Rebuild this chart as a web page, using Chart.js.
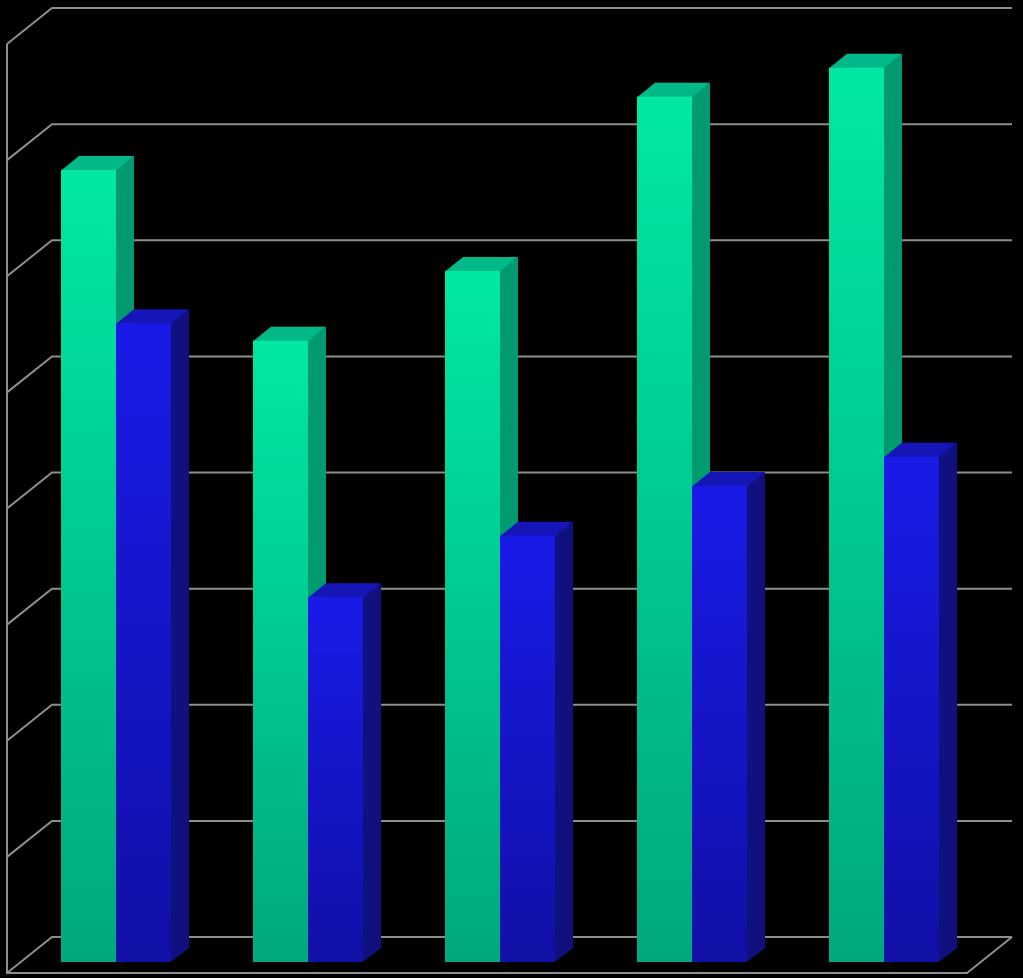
<!DOCTYPE html>
<html>
<head>
<meta charset="utf-8">
<script src="https://cdn.jsdelivr.net/npm/chart.js@4/dist/chart.umd.min.js"></script>
<style>
  html, body { margin: 0; padding: 0; background: #000; }
  #wrap { width: 1023px; height: 978px; position: relative; }
</style>
</head>
<body>
<div id="wrap"><canvas id="c"></canvas></div>
<script>
const categories = ['1', '2', '3', '4', '5'];
const seriesGreen = [6.82, 5.35, 5.95, 7.45, 7.70];
const seriesBlue = [5.50, 3.14, 3.67, 4.10, 4.35];
const yTicks = [0, 1, 2, 3, 4, 5, 6, 7, 8];

const DEPTH_X = 18, DEPTH_Y = 14;      // bar depth
const BACK_X = 32, BACK_Y = 25;        // bar front plane -> back wall
const FRONT_X = 13, FRONT_Y = 11;      // bar front plane -> wall front edge

const styles = [
  { top: '#00e8a4', bottom: '#00a87e', lid: '#00b888', side: '#009a70' },
  { top: '#1a1ae8', bottom: '#1010a6', lid: '#1515b8', side: '#10107e' }
];

function frontFill(ctx, i) {
  const chart = ctx.chart;
  const st = styles[i];
  if (!chart.chartArea || ctx.raw === undefined) return st.top;
  const y = chart.scales.y;
  const g = chart.ctx.createLinearGradient(0, y.getPixelForValue(ctx.raw), 0, y.getPixelForValue(0));
  g.addColorStop(0, st.top);
  g.addColorStop(1, st.bottom);
  return g;
}

const scene3d = {
  id: 'scene3d',
  beforeDatasetsDraw(chart) {
    const { ctx, chartArea: a, scales: { y } } = chart;
    ctx.save();
    // walls and gridlines
    ctx.strokeStyle = '#8e8e8e';
    ctx.lineWidth = 2;
    ctx.lineJoin = 'miter';
    ctx.beginPath();
    yTicks.forEach(v => {
      const py = y.getPixelForValue(v);
      ctx.moveTo(a.left - FRONT_X, py + FRONT_Y);
      ctx.lineTo(a.left + BACK_X, py - BACK_Y);
      ctx.lineTo(a.right + BACK_X, py - BACK_Y);
    });
    const y0 = y.getPixelForValue(yTicks[0]);
    const yMax = y.getPixelForValue(yTicks[yTicks.length - 1]);
    ctx.moveTo(a.left - FRONT_X, yMax + FRONT_Y);
    ctx.lineTo(a.left - FRONT_X, y0 + FRONT_Y);
    ctx.lineTo(a.right - FRONT_X, y0 + FRONT_Y);
    ctx.lineTo(a.right + BACK_X, y0 - BACK_Y);
    ctx.stroke();

    // side and top faces of bars
    chart.data.datasets.forEach((ds, i) => {
      const meta = chart.getDatasetMeta(i);
      const st = styles[i];
      meta.data.forEach(el => {
        const { x, y: top, base, width } = el.getProps(['x', 'y', 'base', 'width'], true);
        const l = x - width / 2, r = x + width / 2;
        ctx.fillStyle = st.side;
        ctx.beginPath();
        ctx.moveTo(r - 0.5, top);
        ctx.lineTo(r + DEPTH_X, top - DEPTH_Y);
        ctx.lineTo(r + DEPTH_X, base - DEPTH_Y);
        ctx.lineTo(r - 0.5, base);
        ctx.closePath();
        ctx.fill();
        ctx.fillStyle = st.lid;
        ctx.beginPath();
        ctx.moveTo(l, top + 0.5);
        ctx.lineTo(l + DEPTH_X, top - DEPTH_Y);
        ctx.lineTo(r + DEPTH_X, top - DEPTH_Y);
        ctx.lineTo(r, top + 0.5);
        ctx.closePath();
        ctx.fill();
      });
    });
    ctx.restore();
  }
};

new Chart(document.getElementById('c'), {
  type: 'bar',
  data: {
    labels: categories,
    datasets: [
      { data: seriesGreen, backgroundColor: c => frontFill(c, 0), borderWidth: 0 },
      { data: seriesBlue, backgroundColor: c => frontFill(c, 1), borderWidth: 0 }
    ]
  },
  options: {
    responsive: true,
    maintainAspectRatio: false,
    animation: false,
    events: [],
    layout: { padding: { left: 20, right: 43, top: 33, bottom: 16 } },
    categoryPercentage: 110 / 192,
    barPercentage: 1.0,
    plugins: { legend: { display: false }, title: { display: false }, tooltip: { enabled: false } },
    scales: {
      x: { display: false, grid: { display: false } },
      y: { display: false, min: 0, max: 8, grid: { display: false } }
    }
  },
  plugins: [scene3d]
});
</script>
</body>
</html>
